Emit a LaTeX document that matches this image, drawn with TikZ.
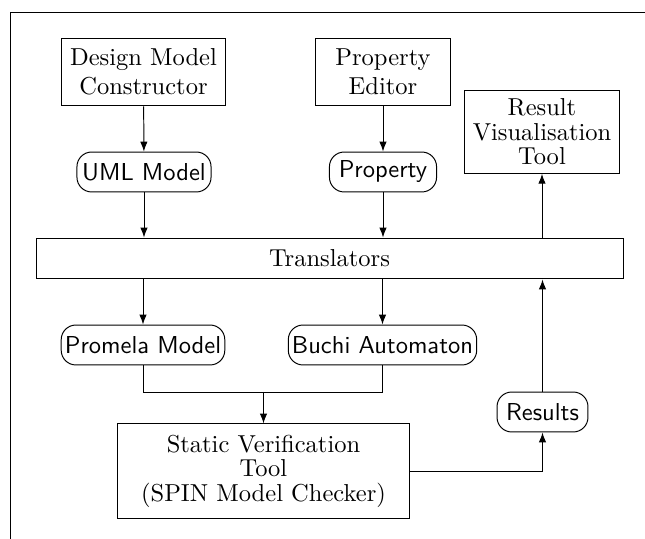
\documentclass[tikz,border=0pt]{standalone}
\usetikzlibrary{arrows.meta}

\begin{document}
\begin{tikzpicture}[x=0.408pt, y=-0.408pt, >={Latex[length=4pt,width=3pt]},
    tool/.style={rectangle,draw,align=center},
    artefact/.style={rectangle,draw,rounded corners=6pt,font=\sffamily,inner xsep=1.5pt,minimum height=16.3pt}]
    \useasboundingbox (0,0) rectangle (645,539);
    \draw (10,539) -- (10,12) -- (645,12);

    % Editors and inputs
    \node[tool, minimum width=65.7pt, minimum height=27.7pt] (dmc) at (143.5,72) {Design Model\\Constructor};
    \node[tool, minimum width=54.7pt, minimum height=27.7pt] (pe) at (383,72) {Property\\Editor};
    \node[tool, minimum width=60.4pt, minimum height=32.6pt] (rvt) at (542,132) {Result\\[-2pt]Visualisation\\[-2pt]Tool};
    \node[artefact, minimum width=54.7pt] (uml) at (144,172) {UML Model};
    \node[artefact, minimum width=43.7pt] (prop) at (383,172) {Property};
    \draw[->] (dmc) -- (uml);
    \draw[->] (pe) -- (prop);

    % Translation
    \node[tool, minimum width=239.5pt, minimum height=16.7pt] (trans) at (329.5,258.5) {Translators};
    \draw[->] (uml) -- (uml |- trans.north);
    \draw[->] (prop) -- (prop |- trans.north);
    \node[artefact, minimum width=64.9pt] (promela) at (143,345) {Promela Model};
    \node[artefact, minimum width=75.5pt] (buchi) at (382.5,345) {Buchi Automaton};
    \draw[->] (promela |- trans.south) -- (promela);
    \draw[->] (buchi |- trans.south) -- (buchi);

    % Model checking and results
    \node[tool, minimum width=119.5pt, minimum height=38.4pt] (svt) at (263.5,471) {Static Verification\\[-2pt]Tool\\[-2pt](SPIN Model Checker)};
    \coordinate (join) at (263.5,392);
    \draw (promela) |- (join);
    \draw (buchi) |- (join);
    \draw[->] (join) -- (svt);
    \node[artefact, minimum width=37.1pt] (results) at (542.5,412) {Results};
    \draw[->] (svt) -| (results);
    \draw[->] (results) -- (results |- trans.south);
    \draw[->] (rvt |- trans.north) -- (rvt);
\end{tikzpicture}
\end{document}
